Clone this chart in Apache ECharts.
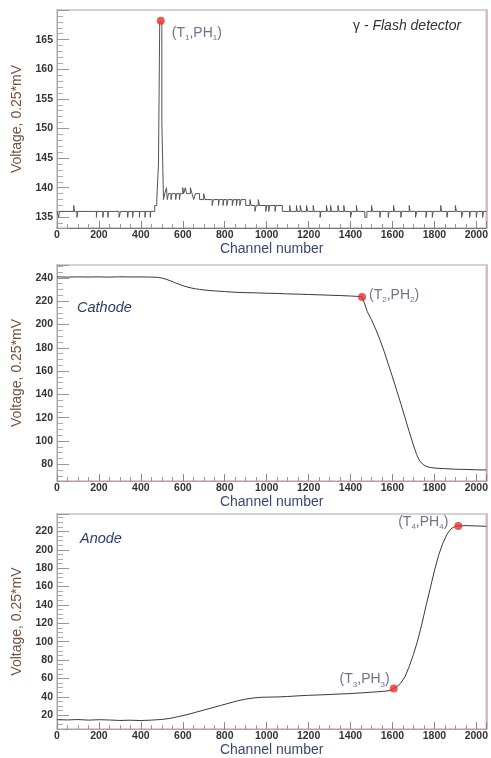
<!DOCTYPE html>
<html>
<head>
<meta charset="utf-8">
<script src="https://cdn.jsdelivr.net/npm/echarts@6/dist/echarts.min.js"></script>
<style>
  html, body { margin: 0; padding: 0; background: #fff; }
  #main { width: 491px; height: 758px; }
</style>
</head>
<body>
<div id="main"></div>
<script>
// gamma-flash detector, histogram steps [channel, value]
const gammaSteps = [
  [0,136],[8,135],[11,136],[80,137],[83,136],[95,135],[99,136],[188,135],[190,136],
  [219,135],[221,136],[243,135],[245,136],[296,135],[303,136],[337,135],[340,136],
  [361,135],[363,136],[393,135],[395,136],[420,135],[422,136],[445,135],[447,136],
  [466,137],[476,138],[484,144],[490,168],[500,151],[508,138],[514,139],[522,140],
  [526,138],[532,139],[544,138],[548,139],[566,138],[570,139],[584,138],[588,139],
  [600,140],[604,139],[612,140],[618,139],[636,140],[644,139],[652,138],[660,139],
  [680,138],[700,139],[706,138],[740,137],[746,138],[770,137],[774,138],[792,137],
  [796,138],[810,137],[816,138],[836,137],[842,138],[856,137],[860,138],[872,137],
  [878,138],[900,137],[920,138],[926,137],[944,136],[950,137],[960,138],[966,137],
  [996,136],[1000,137],[1010,136],[1014,137],[1040,136],[1044,137],[1075,136],
  [1110,137],[1114,136],[1142,137],[1146,136],[1160,137],[1166,136],[1190,137],
  [1196,136],[1222,137],[1226,136],[1255,135],[1258,136],[1285,137],[1290,136],
  [1305,137],[1309,136],[1340,137],[1345,136],[1368,137],[1372,136],[1400,135],
  [1406,136],[1428,137],[1432,136],[1468,135],[1478,136],[1500,137],[1505,136],
  [1540,135],[1544,136],[1580,135],[1584,136],[1605,137],[1610,136],[1640,135],
  [1644,136],[1680,137],[1684,136],[1710,135],[1716,136],[1760,135],[1764,136],
  [1790,135],[1794,136],[1830,137],[1834,136],[1860,135],[1864,136],[1900,137],
  [1905,136],[1930,135],[1936,136],[1968,135],[1972,136],[2000,135],[2004,136],
  [2030,135],[2034,136],[2048,136]
];

// cathode signal [channel, value]
const cathodeTrace = [
  [0,240.8],[50,240.6],[100,240.8],[150,240.7],[200,240.8],[250,240.6],[300,240.9],
  [350,240.7],[400,240.8],[450,240.6],[480,240.4],[500,239.8],[520,238.8],[540,237.5],
  [560,236],[580,234.6],[600,233.3],[620,232.2],[640,231.3],[660,230.6],[680,230.1],
  [700,229.6],[750,228.8],[800,228.2],[850,227.6],[900,227.3],[950,227.1],[1000,226.8],
  [1050,226.6],[1100,226.2],[1150,226],[1200,225.7],[1250,225.4],[1300,225.1],
  [1350,224.8],[1400,224.4],[1440,224],[1455,223.6],[1465,219],[1480,211],[1500,204],
  [1520,196],[1540,187],[1560,177],[1580,166],[1600,155],[1620,143.5],[1640,132],
  [1660,120],[1680,108],[1700,96.5],[1715,88.5],[1730,83],[1745,80],[1760,78.3],
  [1780,77.3],[1800,76.8],[1850,76.3],[1900,75.8],[1950,75.6],[2000,75.3],[2048,75.2]
];

// anode signal [channel, value]
const anodeTrace = [
  [0,15],[50,14.8],[100,15.2],[150,14.6],[200,15],[250,14.7],[300,14.2],[350,14.5],
  [400,14.1],[450,14.6],[500,15.3],[540,16.5],[580,18.5],[620,20.5],[660,23],[700,25.5],
  [740,28],[780,30.5],[820,33],[860,35.5],[900,37.5],[940,38.8],[980,39.5],[1000,39.6],
  [1050,39.8],[1100,40.3],[1150,41],[1200,41.6],[1250,42],[1300,42.5],[1350,43],
  [1400,43.5],[1450,44.2],[1500,45],[1550,45.8],[1590,46.8],[1606,49],[1620,51],
  [1640,55],[1660,62],[1680,73],[1700,86],[1720,101],[1740,119],[1760,139],[1780,158],
  [1800,177],[1820,194],[1840,207],[1860,217],[1880,223],[1900,225.6],[1914,226],
  [1950,226.4],[2000,226],[2048,225.6]
];

// marked points
const markT1 = [[495, 168.2]];
const markT2 = [[1455, 223.6]];
const markT3 = [[1606, 49]];
const markT4 = [[1914, 226]];
const markNames = ['(T{s|1},PH{s|1})', '(T{s|2},PH{s|2})', '(T{s|3},PH{s|3})', '(T{s|4},PH{s|4})'];

// axis ranges of the three panels
const yRanges = [[133.2, 170], [65.7, 251], [4.8, 239]];
const ySplits = [7, 9, 11];
const yMinor = [5, 4, 4];

const panelTops = [10, 265, 514];
const panelH = [218, 216, 216];

var chart = echarts.init(document.getElementById('main'), null, { renderer: 'canvas' });

var font = 'Liberation Sans, Arial, sans-serif';
var labRich = {
  s: { fontSize: 8, lineHeight: 8, verticalAlign: 'bottom', color: '#4a4e75', fontFamily: font }
};

var grids = [], xAxes = [], yAxes = [];
for (let i = 0; i < 3; i++) {
  grids.push({
    left: 57, width: 432, top: panelTops[i], height: panelH[i],
    show: true, borderColor: '#d2d2d2', borderWidth: 2, backgroundColor: '#fff'
  });
  xAxes.push({
    gridIndex: i, type: 'value', min: 0, max: 2048, splitNumber: 10,
    name: 'Channel number', nameLocation: 'middle', nameGap: 12,
    nameTextStyle: { fontSize: 14, color: '#3b4674', fontFamily: font },
    axisLine: { show: true, lineStyle: { color: i === 0 ? '#777' : '#cf9696', width: 1 } },
    axisTick: { show: true, inside: true, length: 7, lineStyle: { color: '#888' } },
    minorTick: { show: true, splitNumber: 4, length: 4, lineStyle: { color: '#999' } },
    axisLabel: {
      margin: 2, fontSize: 10.5, fontWeight: 'bold', color: '#333', fontFamily: font,
      showMaxLabel: false,
      formatter: function (v) { return v % 200 === 0 ? String(v) : ''; }
    },
    splitLine: { show: false }
  });
  yAxes.push({
    gridIndex: i, type: 'value', min: yRanges[i][0], max: yRanges[i][1], splitNumber: ySplits[i],
    name: 'Voltage, 0.25*mV', nameLocation: 'middle', nameGap: 32, nameRotate: 90,
    nameTextStyle: { fontSize: 14, color: '#74503f', fontFamily: font },
    axisLine: { show: true, lineStyle: { color: '#aaa', width: 1 } },
    axisTick: { show: true, inside: true, length: 12, lineStyle: { color: '#999' } },
    minorTick: { show: true, splitNumber: yMinor[i], length: 6, lineStyle: { color: '#aaa' } },
    axisLabel: {
      margin: 4, fontSize: 10.5, fontWeight: 'bold', color: '#333', fontFamily: font,
      showMinLabel: false, showMaxLabel: false
    },
    splitLine: { show: false }
  });
}
// pinkish right frame edges
for (let i = 0; i < 3; i++) {
  yAxes.push({
    gridIndex: i, type: 'value', position: 'right', min: yRanges[i][0], max: yRanges[i][1],
    axisLine: { show: true, lineStyle: { color: '#e3a9a9', width: 1.5 } },
    axisTick: { show: false }, axisLabel: { show: false }, splitLine: { show: false }
  });
}

function marker(data, xi, yi, name, pos, offset) {
  return {
    type: 'scatter', xAxisIndex: xi, yAxisIndex: yi, data: data, symbolSize: 8, z: 5,
    itemStyle: { color: '#e8302c' },
    label: {
      show: true, position: pos, distance: 5, offset: offset, formatter: name,
      fontSize: 14, lineHeight: 18, color: '#4a4e75', fontFamily: font, rich: labRich
    }
  };
}

var option = {
  backgroundColor: '#fff',
  animation: false,
  title: [
    {
      text: 'γ - {i|Flash detector}', left: 353, top: 19, padding: 0,
      textStyle: {
        fontSize: 14, fontWeight: 'normal', color: '#333', fontFamily: font,
        rich: { i: { fontSize: 14, fontStyle: 'italic', color: '#333', fontFamily: font } }
      }
    },
    {
      text: 'Cathode', left: 77, top: 300, padding: 0,
      textStyle: { fontSize: 14.5, fontWeight: 'normal', fontStyle: 'italic', color: '#2f3a6b', fontFamily: font }
    },
    {
      text: 'Anode', left: 80, top: 531, padding: 0,
      textStyle: { fontSize: 14.5, fontWeight: 'normal', fontStyle: 'italic', color: '#2f3a6b', fontFamily: font }
    }
  ],
  grid: grids,
  xAxis: xAxes,
  yAxis: yAxes,
  series: [
    {
      type: 'line', xAxisIndex: 0, yAxisIndex: 0, data: gammaSteps, step: 'end',
      showSymbol: false, lineStyle: { color: '#555', width: 1 }
    },
    {
      type: 'line', xAxisIndex: 1, yAxisIndex: 1, data: cathodeTrace,
      showSymbol: false, lineStyle: { color: '#3a3a3a', width: 1 }
    },
    {
      type: 'line', xAxisIndex: 2, yAxisIndex: 2, data: anodeTrace,
      showSymbol: false, lineStyle: { color: '#3a3a3a', width: 1 }
    },
    marker(markT1, 0, 0, markNames[0], 'right', [2, 12]),
    marker(markT2, 1, 1, markNames[1], 'right', [-2, -2]),
    marker(markT3, 2, 2, markNames[2], 'left', [5, -9]),
    marker(markT4, 2, 2, markNames[3], 'left', [-1, -4])
  ]
};

chart.setOption(option);
</script>
</body>
</html>
